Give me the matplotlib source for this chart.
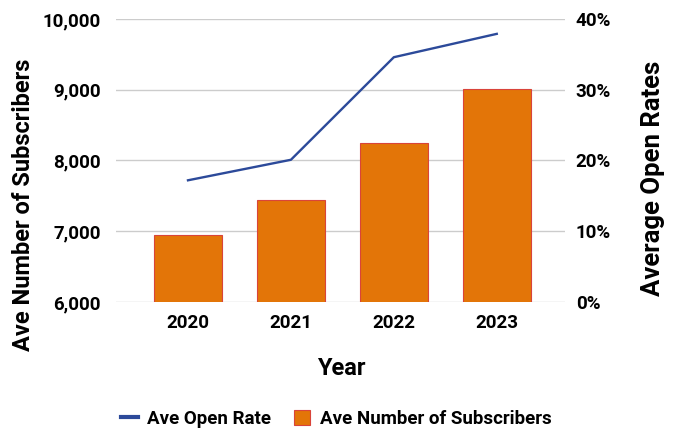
import matplotlib.pyplot as plt
from matplotlib.ticker import FuncFormatter

plt.rcParams['font.family'] = ['Roboto', 'DejaVu Sans']

years = ['2020', '2021', '2022', '2023']
subscribers = [6950, 7440, 8250, 9010]
open_rate = [17.2, 20.1, 34.6, 37.9]

fig, ax = plt.subplots(figsize=(6.82, 4.32), dpi=100)
fig.subplots_adjust(left=0.17, right=0.828, top=0.956, bottom=0.301)

x = range(len(years))
bars = ax.bar(x, subscribers, width=0.66, color='#e37508', edgecolor='#d9443a',
              linewidth=0.8, label='Ave Number of Subscribers', zorder=2)
ax.set_ylim(6000, 10000)
ax.set_yticks([6000, 7000, 8000, 9000, 10000])
ax.yaxis.set_major_formatter(FuncFormatter(lambda v, p: f'{int(v):,}'))
ax.set_xlim(-0.7, 3.66)
ax.set_xticks(list(x))
ax.set_xticklabels(years)
ax.grid(axis='y', color='#cccccc', linewidth=1, zorder=0)
ax.set_axisbelow(True)
for s in ax.spines.values():
    s.set_visible(False)
ax.tick_params(length=0, labelsize=13.5)
ax.tick_params(axis='y', pad=11)
ax.tick_params(axis='x', pad=9)
for lab in ax.get_xticklabels() + ax.get_yticklabels():
    lab.set_fontweight('bold')

ax2 = ax.twinx()
line, = ax2.plot(x, open_rate, color='#2c4a9a', linewidth=1.7, label='Ave Open Rate')
ax2.set_ylim(0, 40)
ax2.set_yticks([0, 10, 20, 30, 40])
ax2.yaxis.set_major_formatter(FuncFormatter(lambda v, p: f'{int(v)}%'))
for s in ax2.spines.values():
    s.set_visible(False)
ax2.tick_params(length=0, labelsize=13.5, pad=8)
for lab in ax2.get_yticklabels():
    lab.set_fontweight('bold')

# axis titles
fig.text(0.035, 0.525, 'Ave Number of Subscribers', rotation=90, ha='center', va='center',
         fontsize=17, fontweight='bold')
fig.text(0.957, 0.588, 'Average Open Rates', rotation=90, ha='center', va='center',
         fontsize=18.5, fontweight='bold')
fig.text(0.501, 0.148, 'Year', ha='center', va='center', fontsize=17, fontweight='bold')

fig.legend([line, bars], ['Ave Open Rate', 'Ave Number of Subscribers'],
           loc='center', bbox_to_anchor=(0.493, 0.03), ncol=2, frameon=False,
           prop={'size': 13.5, 'weight': 'bold'}, handlelength=0.9, handleheight=0.8,
           columnspacing=1.2, handletextpad=0.5)
fig.legends[0].get_lines()[0].set_linewidth(3)

fig.savefig('out.png', dpi=100)
